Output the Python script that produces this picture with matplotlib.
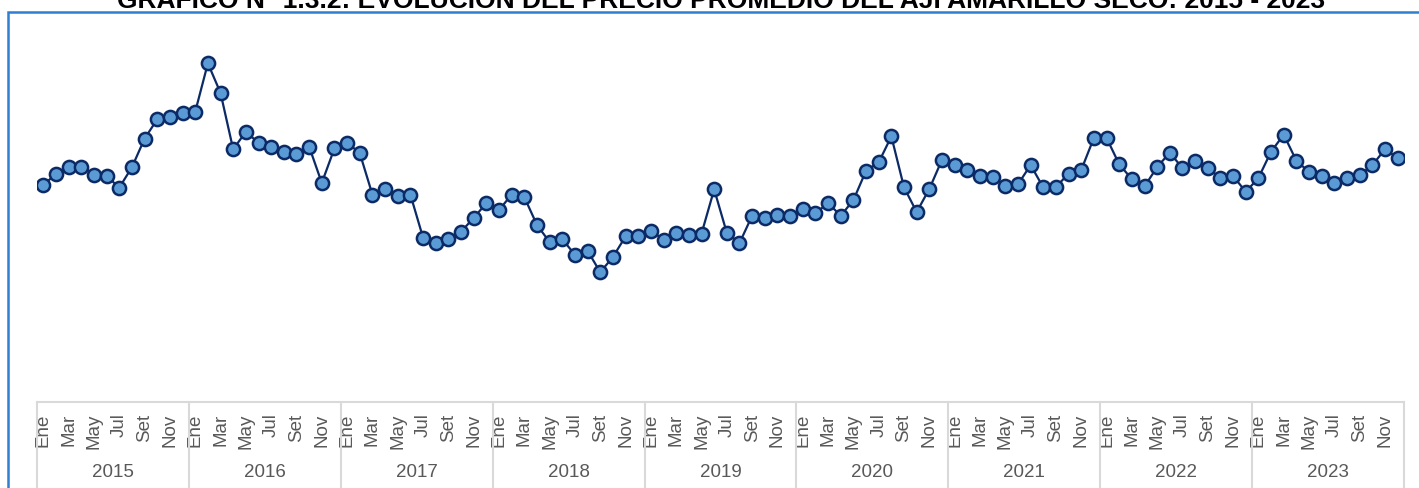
import numpy as np
import matplotlib
matplotlib.use('Agg')
import matplotlib.pyplot as plt
from matplotlib.patches import Rectangle
import matplotlib.transforms as mtransforms

plt.rcParams['font.family'] = ['Liberation Sans', 'DejaVu Sans']

# monthly average price
years = ['2015', '2016', '2017', '2018', '2019', '2020', '2021', '2022', '2023']
months = ['Ene', 'Feb', 'Mar', 'Abr', 'May', 'Jun', 'Jul', 'Ago', 'Set', 'Oct', 'Nov', 'Dic']

p2015 = [8.73, 9.17, 9.44, 9.46, 9.14, 9.09, 8.62, 9.44, 10.59, 11.37, 11.47, 11.63]
p2016 = [11.67, 13.62, 12.43, 10.16, 10.87, 10.42, 10.27, 10.05, 9.96, 10.27, 8.81, 10.20]
p2017 = [10.43, 10.01, 8.34, 8.58, 8.27, 8.34, 6.61, 6.38, 6.57, 6.85, 7.40, 8.00]
p2018 = [7.72, 8.34, 8.24, 7.12, 6.43, 6.55, 5.92, 6.08, 5.22, 5.83, 6.66, 6.68]
p2019 = [6.89, 6.53, 6.80, 6.72, 6.77, 8.55, 6.80, 6.39, 7.49, 7.41, 7.52, 7.47]
p2020 = [7.76, 7.59, 8.00, 7.49, 8.12, 9.30, 9.64, 10.68, 8.63, 7.64, 8.57, 9.74]
p2021 = [9.54, 9.32, 9.09, 9.06, 8.70, 8.75, 9.53, 8.63, 8.65, 9.18, 9.33, 10.62]
p2022 = [10.62, 9.56, 8.96, 8.67, 9.45, 10.03, 9.40, 9.68, 9.41, 9.00, 9.09, 8.45]
p2023 = [9.01, 10.07, 10.75, 9.70, 9.25, 9.08, 8.81, 9.00, 9.13, 9.52, 10.17, 9.81]

prices = p2015 + p2016 + p2017 + p2018 + p2019 + p2020 + p2021 + p2022 + p2023
x = np.arange(len(prices))

fig = plt.figure(figsize=(14.19, 4.89), dpi=100)
ax = fig.add_axes([37 / 1419, 86 / 489, 1367 / 1419, 373 / 489])

ax.plot(x, prices, color='#0B2A66', lw=1.6, marker='o', markersize=9.5,
        markerfacecolor='#5B9BD5', markeredgecolor='#0B2A66', markeredgewidth=1.8,
        zorder=3)

ax.set_xlim(-0.5, len(prices) - 0.5)
ax.set_ylim(0, 15)
ax.set_yticks([])

# month labels, only every other month is shown
tick_pos = x[::2]
tick_lab = [months[i % 12] for i in tick_pos]
ax.set_xticks(tick_pos)
ax.set_xticklabels(tick_lab, rotation=90, va='top', ha='center',
                   fontsize=13.5, color='#595959')
ax.tick_params(axis='x', length=0, pad=7.5)

for s in ['top', 'right', 'left']:
    ax.spines[s].set_visible(False)
ax.spines['bottom'].set_color('#D9D9D9')
ax.spines['bottom'].set_linewidth(1.5)

# year groups under the month labels
trans = mtransforms.blended_transform_factory(ax.transData, ax.transAxes)
for i, yr in enumerate(years):
    ax.text(i * 12 + 5.5, -70 / 373, yr, transform=trans, ha='center', va='center',
            fontsize=13.5, color='#595959')
for i in range(len(years) + 1):
    ax.plot([i * 12 - 0.5, i * 12 - 0.5], [0, -0.3], transform=trans,
            color='#D9D9D9', lw=1.5, clip_on=False)

# chart frame, cut at the right and bottom edges like the source
fig.patches.append(Rectangle((8 / 1419, -0.1), 1.2, 1.1 - 13 / 489,
                             transform=fig.transFigure, fill=False,
                             edgecolor='#2F7FD0', lw=1.8))

fig.text(721 / 1419, 1 - 8 / 489,
         'GRÁFICO N° 1.3.2: EVOLUCIÓN DEL PRECIO PROMEDIO DEL AJÍ AMARILLO SECO: 2015 - 2023',
         ha='center', va='baseline', fontsize=19, fontweight='bold', color='black')

fig.savefig('out.png', dpi=100)
